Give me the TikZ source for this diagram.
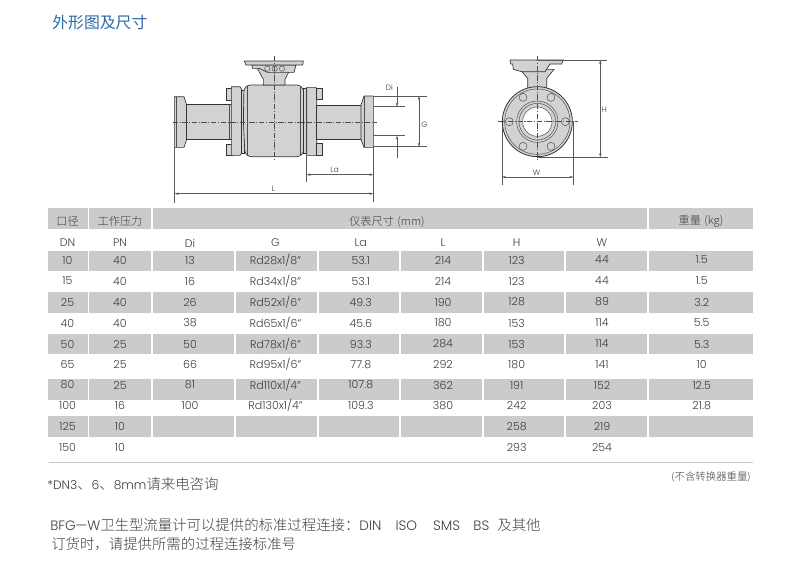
\documentclass[tikz,border=0pt]{standalone}
\usepackage{fontspec}
\usetikzlibrary{arrows.meta}
\setmainfont{Poppins}[UprightFont=* Light]
\newfontfamily\cjk{Noto Sans CJK SC}[UprightFont=* Light]
\newfontfamily\cjkreg{Noto Sans CJK SC}
\newcommand{\latA}{\rmfamily\fontsize{10.2}{12}\selectfont}
\newcommand{\latB}{\rmfamily\fontsize{9.2}{12}\selectfont}
\newcommand{\cjkN}{\cjk\fontsize{10.8}{12}\selectfont}
\definecolor{bandgray}{HTML}{CBCBCB}
\definecolor{inkgray}{HTML}{3E3E3E}
\definecolor{partgray}{HTML}{D2D2D2}
\definecolor{titleblue}{HTML}{2A6BA6}
\tikzset{
  band/.style={fill=bandgray,draw=none},
  cell/.style={font=\fontsize{8.3}{10}\selectfont,text=inkgray,inner sep=0pt,anchor=center},
  head/.style={font=\cjk\fontsize{8.4}{10}\selectfont,text=inkgray,inner sep=0pt,anchor=center},
  note/.style={font=\cjkN,text=inkgray,inner sep=0pt,anchor=west},
  part/.style={fill=partgray,draw=black!80,line width=0.5pt},
  thin part/.style={draw=black!70,line width=0.35pt},
  dimline/.style={draw=black!65,line width=0.35pt},
  dimarrow/.style={draw=black!65,line width=0.35pt,{Stealth[length=3pt,width=1.8pt]}-{Stealth[length=3pt,width=1.8pt]}},
  centre/.style={draw=black!70,line width=0.35pt,dash pattern=on 4pt off 1.2pt on 0.8pt off 1.2pt},
  dimlabel/.style={font=\fontsize{5.8}{7}\selectfont,text=inkgray,inner sep=0pt}
}
\begin{document}
\begin{tikzpicture}[x=0.75pt,y=-0.75pt]
\useasboundingbox (0,0) rectangle (800,561);
\node[inner sep=0pt,anchor=west,text=titleblue,font=\cjkreg\fontsize{11.9}{14}\selectfont] (title) at (52,23) {外形图及尺寸};

% side view
\begin{scope}[shift={(160,40)},x=0.25pt,y=-0.25pt]
 \draw[part] (43,170) -- (72,170) -- (80,195) -- (80,298) -- (72,322) -- (43,322) -- cycle;
 \draw[thin part] (50,170) -- (50,322);
 \draw[part] (80,192) -- (218,192) -- (218,298) -- (80,298) -- cycle;
 \draw[thin part] (208,192) -- (208,298);
 \draw[part] (200,145) rectangle (218,180);
 \draw[part] (200,312) rectangle (218,346);
 \draw[part] (214,140) -- (240,140) -- (245,148) -- (245,340) -- (240,346) -- (214,346) -- cycle;
 \draw[part] (245,150) -- (252,150) -- (252,340) -- (245,340) -- cycle;
 \draw[part,rounded corners=5pt] (252,135) -- (430,135) -- (434,240) -- (430,350) -- (255,350) -- (250,240) -- cycle;
 \draw[thin part] (262,137) -- (262,348);
 \draw[thin part] (420,137) -- (420,348);
 \draw[part] (430,145) rectangle (440,340);
 \draw[part] (440,142) -- (468,142) -- (470,150) -- (470,340) -- (468,346) -- (440,346) -- cycle;
 \draw[part] (468,145) rectangle (487,178);
 \draw[part] (468,310) rectangle (487,345);
 \draw[part] (470,195) -- (605,195) -- (605,298) -- (470,298) -- cycle;
 \draw[part] (603,195) -- (612,168) -- (640,168) -- (640,322) -- (612,322) -- (603,298) -- cycle;
 \draw[thin part] (612,168) -- (612,322);
 % neck and plate
 \draw[part] (310,135) -- (310,118) -- (292,85) -- (392,85) -- (375,118) -- (375,135) -- cycle;
 \draw[part] (275,75) -- (408,75) -- (402,97) -- (322,97) -- (298,85) -- (278,85) -- cycle;
 \draw[part] (253,63) -- (430,63) -- (428,75) -- (258,75) -- cycle;
 \foreach \px in {322,344,366}{\draw[thin part,fill=partgray] (\px,86) circle (2pt);}
 % centre lines
 \draw[centre] (38,246) -- (650,246);
 \draw[centre] (344,48) -- (344,360);
 % dimensions
 \draw[dimline] (640,168) -- (800,168);
 \draw[dimline] (640,200) -- (735,200);
 \draw[dimline] (640,287) -- (735,287);
 \draw[dimline] (640,320) -- (800,320);
 \draw[dimline,-{Stealth[length=3pt,width=1.8pt]}] (711,140) -- (711,200);
 \draw[dimline,-{Stealth[length=3pt,width=1.8pt]}] (711,355) -- (711,287);
 \draw[dimarrow] (777,168) -- (777,320);
 \draw[dimline] (440,345) -- (440,425);
 \draw[dimline] (640,322) -- (640,487);
 \draw[dimline] (44,322) -- (44,490);
 \draw[dimarrow] (440,404) -- (640,404);
 \draw[dimarrow] (44,461) -- (640,461);
 \node[dimlabel] (lblDi) at (688,142) {Di};
 \node[dimlabel] (lblG) at (793,254) {G};
 \node[dimlabel] (lblLa) at (524,388) {La};
 \node[dimlabel] (lblL) at (340,447) {L};
\end{scope}

% front view
\begin{scope}[shift={(480,40)},x=0.25pt,y=-0.25pt]
 \draw[part] (143,145) -- (143,115) -- (120,88) -- (222,88) -- (200,115) -- (200,145) -- cycle;
 \draw[part] (90,60) -- (250,60) -- (245,72) -- (210,72) -- (195,95) -- (125,95) -- (100,88) -- (98,72) -- (92,72) -- cycle;
 \draw[part,line width=0.6pt] (172,245) circle (26.25pt);
 \draw[thin part] (172,245) circle (24.5pt);
 \draw[thin part] (172,245) circle (15.5pt);
 \draw[thin part] (172,245) circle (13.75pt);
 \draw[thin part,fill=white] (172,245) circle (11pt);
 \foreach \hx/\hy in {129/172,213/172,88/245,256/245,129/319,213/319}{
  \draw[thin part,fill=partgray] (\hx,\hy) circle (3pt);}
 \draw[centre] (55,245) -- (295,245);
 \draw[centre] (172,48) -- (172,360);
 \draw[dimline] (172,60) -- (382,60);
 \draw[dimline] (172,352) -- (385,352);
 \draw[dimarrow] (361,60) -- (361,352);
 \draw[dimline] (66,260) -- (66,435);
 \draw[dimline] (280,245) -- (280,435);
 \draw[dimarrow] (66,411) -- (280,411);
 \node[dimlabel] (lblH) at (373,210) {H};
 \node[dimlabel] (lblW) at (170,397) {W};
\end{scope}

% table header bands
\foreach \xa/\xb in {48/87.7,89.3/151,153/647,648.5/752.7}{
 \fill[band] (\xa,208) rectangle (\xb,229);}
% data bands
\foreach \ya/\yb in {250.7/271,292/312.7,334/354,379/400,416/437}{
 \foreach \xa/\xb in {48/87.7,89.3/151,153/234,236/317,319/399,401/481.7,484/564,566/647,648.5/752.7}{
  \fill[band] (\xa,\ya) rectangle (\xb,\yb);}}
\draw[draw=black!22,line width=0.6pt] (49,462.7) -- (752.7,462.7);

\node[head] (h1) at (67.5,221.5) {口径};
\node[head] (h2) at (120,221.5) {工作压力};
\node[head] (h3) at (387,221.5) {仪表尺寸\hspace{2.5pt}(mm)};
\node[head] (h4) at (701,221.5) {重量\hspace{2.5pt}(kg)};

\foreach \yy/\cA/\cB/\cC/\cD/\cE/\cF/\cG/\cH/\cI in {
 243/DN/PN/Di/G/La/L/H/W/{},
 260/10/40/13/{Rd28x1/8"}/53.1/214/123/44/1.5,
 281/15/40/16/{Rd34x1/8"}/53.1/214/123/44/1.5,
 302/25/40/26/{Rd52x1/6"}/49.3/190/128/89/3.2,
 323/40/40/38/{Rd65x1/6"}/45.6/180/153/114/5.5,
 344/50/25/50/{Rd78x1/6"}/93.3/284/153/114/5.3,
 364.5/65/25/66/{Rd95x1/6"}/77.8/292/180/141/10,
 385/80/25/81/{Rd110x1/4"}/107.8/362/191/152/12.5,
 405.5/100/16/100/{Rd130x1/4"}/109.3/380/242/203/21.8,
 426.5/125/10/{}/{}/{}/{}/258/219/{},
 447/150/10/{}/{}/{}/{}/293/254/{}}{
 \node[cell] at (67.5,\yy) {\cA};
 \node[cell] at (120,\yy) {\cB};
 \node[cell] at (190,\yy) {\cC};
 \node[cell] at (275.5,\yy) {\cD};
 \node[cell] at (360.8,\yy) {\cE};
 \node[cell] at (443,\yy) {\cF};
 \node[cell] at (516.7,\yy) {\cG};
 \node[cell] at (602,\yy) {\cH};
 \node[cell] at (701.7,\yy) {\cI};
}

\node[inner sep=0pt,anchor=east,text=inkgray,font=\cjk\fontsize{7.8}{9}\selectfont] (weightnote) at (751,477) {(不含转换器重量)};
\node[note] (dnnote) at (47,484) {\latB *DN3\cjkN 、\latB 6\cjkN 、\latB 8mm\cjkN 请来电咨询};
\node[note] (line1) at (50,525) {\latA BFG—W\cjkN 卫生型流量计可以提供的标准过程连接：\latA DIN\hspace{10.5pt}ISO\hspace{12pt}SMS\hspace{10pt}BS\hspace{6pt}\cjkN 及其他};
\node[note] (line2) at (51,544) {订货时，请提供所需的过程连接标准号};
\end{tikzpicture}
\end{document}
